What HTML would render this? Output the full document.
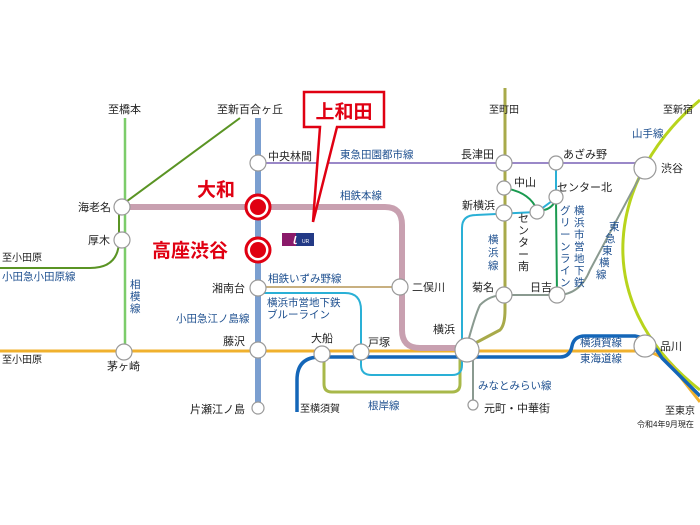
<!DOCTYPE html>
<html><head><meta charset="utf-8"><style>
html,body{margin:0;padding:0;background:#fff;}
svg{display:block;}
text{font-family:"Liberation Sans","Noto Sans CJK JP",sans-serif;}
.k{font-size:11px;fill:#222;}
.b{font-size:10.5px;fill:#1d4f8f;}
</style></head><body>
<svg width="700" height="525" viewBox="0 0 700 525" xmlns="http://www.w3.org/2000/svg">
<rect width="700" height="525" fill="#fff"/>
<path d="M700,100 C610,175 585,300 700,390" fill="none" stroke="#b8d41c" stroke-width="3"/>
<path d="M0,351 L640,351 Q660,351 675,370 L700,402" fill="none" stroke="#f0b12e" stroke-width="3"/>
<path d="M297,412 L297,380 Q297,357 320,357 L560,357 Q570,357 572,346 Q574,336 585,336 L635,336 Q650,338 662,358 L700,396" fill="none" stroke="#1466b8" stroke-width="3.5"/>
<path d="M324,352 L324,384 Q324,392 332,392 L452,392 Q460,392 460,384 L460,352" fill="none" stroke="#a8b84a" stroke-width="3"/>
<path d="M466,348 L500,330 Q505,325 505,310 L505,88" fill="none" stroke="#a8aa4a" stroke-width="3"/>
<path d="M258,293 L345,293 Q361,293 361,310 L361,365 Q361,375 372,375 L452,375 Q462,375 462,365 L462,228 Q462,215 476,215 L537,212 L556,198 L556,163" fill="none" stroke="#2ab0d6" stroke-width="2"/>
<path d="M504,188 Q530,192 537,210 Q550,212 556,200 L557,295" fill="none" stroke="#1a9a50" stroke-width="2"/>
<path d="M466,349 Q475,315 480,305 Q490,295 504,295 L557,295 Q580,295 590,270 L645,167" fill="none" stroke="#8a9a90" stroke-width="2"/>
<path d="M473,350 L473,405" fill="none" stroke="#8a9a90" stroke-width="2"/>
<path d="M258,163 L645,163" fill="none" stroke="#9a88c8" stroke-width="2"/>
<path d="M258,287 L400,287" fill="none" stroke="#c8b080" stroke-width="2"/>
<path d="M122,207 L385,207 Q402,207 402,225 L402,330 Q402,348 420,348 L466,348" fill="none" stroke="#c8a0b0" stroke-width="6"/>
<path d="M125,118 L125,352" fill="none" stroke="#7ccc6a" stroke-width="2.5"/>
<path d="M0,268 L90,268 Q119,268 119,240 L119,207 L240,118" fill="none" stroke="#5a9424" stroke-width="2"/>
<path d="M258,118 L258,408" fill="none" stroke="#7b9fd0" stroke-width="6"/>

<g fill="#fff" stroke="#999" stroke-width="1.2">
<circle cx="122" cy="207" r="8"/><circle cx="122" cy="240" r="8"/><circle cx="124" cy="352" r="8"/>
<circle cx="258" cy="163" r="8"/><circle cx="258" cy="288" r="8"/><circle cx="258" cy="350" r="8"/><circle cx="258" cy="408" r="6"/>
<circle cx="322" cy="354" r="8"/><circle cx="361" cy="352" r="8"/><circle cx="400" cy="287" r="8"/>
<circle cx="467" cy="350" r="12"/><circle cx="473" cy="405" r="5"/>
<circle cx="504" cy="163" r="8"/><circle cx="504" cy="188" r="7"/><circle cx="504" cy="213" r="8"/><circle cx="504" cy="295" r="8"/>
<circle cx="537" cy="212" r="7"/><circle cx="556" cy="197" r="7"/><circle cx="556" cy="163" r="7"/><circle cx="557" cy="295" r="8"/>
<circle cx="645" cy="168" r="11"/><circle cx="645" cy="346" r="11"/>
</g>
<g><circle cx="258" cy="207" r="12" fill="#fff" stroke="#e00012" stroke-width="3"/><circle cx="258" cy="207" r="8" fill="#e00012"/>
<circle cx="258" cy="250" r="12" fill="#fff" stroke="#e00012" stroke-width="3"/><circle cx="258" cy="250" r="8" fill="#e00012"/></g>

<path d="M304,92 L384,92 L384,127 L337,127 L313,222 L320,127 L304,127 Z" fill="#fff" stroke="#e00012" stroke-width="2.5" stroke-linejoin="miter"/>
<text x="344" y="118" text-anchor="middle" font-size="19" font-weight="bold" fill="#e00012">上和田</text>
<rect x="282" y="233" width="32" height="13" fill="#233a86"/><rect x="282" y="233" width="14" height="13" fill="#8a1a6a"/>
<text x="289" y="244" font-size="10" fill="#fff" font-style="italic" font-weight="bold">ｌ</text>
<text x="302" y="243" font-size="5" fill="#fff">UR</text>

<text x="197" y="196" font-size="19" font-weight="bold" fill="#e00012">大和</text>
<text x="152" y="257" font-size="19" font-weight="bold" fill="#e00012">高座渋谷</text>

<g class="k">
<text x="108" y="113">至橋本</text><text x="217" y="113">至新百合ヶ丘</text>
<text x="268" y="160">中央林間</text><text x="78" y="211">海老名</text><text x="88" y="244">厚木</text>
<text x="2" y="261" font-size="10">至小田原</text><text x="2" y="363" font-size="10">至小田原</text>
<text x="107" y="370">茅ヶ崎</text><text x="212" y="292">湘南台</text><text x="223" y="345">藤沢</text>
<text x="190" y="413">片瀬江ノ島</text><text x="311" y="342">大船</text><text x="368" y="346">戸塚</text>
<text x="412" y="291">二俣川</text><text x="433" y="333">横浜</text><text x="484" y="412">元町・中華街</text>
<text x="300" y="412" font-size="10">至横須賀</text>
<text x="461" y="158">長津田</text><text x="563" y="158">あざみ野</text><text x="514" y="186">中山</text>
<text x="462" y="209">新横浜</text><text x="557" y="191">センター北</text><text x="472" y="291">菊名</text>
<text x="530" y="291">日吉</text><text x="661" y="172">渋谷</text><text x="660" y="350">品川</text>
<text x="489" y="113" font-size="10">至町田</text><text x="663" y="113" font-size="10">至新宿</text>
<text x="665" y="414" font-size="10">至東京</text>
<text x="637" y="427" font-size="8">令和4年9月現在</text>
</g>
<g class="k" font-size="11"><text x="518" y="222">セ</text><text x="518" y="234">ン</text><text x="518" y="246">タ</text><text x="518" y="258">ー</text><text x="518" y="270">南</text></g>
<g class="b">
<text x="340" y="158">東急田園都市線</text><text x="340" y="199">相鉄本線</text>
<text x="268" y="282">相鉄いずみ野線</text><text x="267" y="306">横浜市営地下鉄</text><text x="267" y="318">ブルーライン</text>
<text x="176" y="322">小田急江ノ島線</text><text x="2" y="280">小田急小田原線</text>
<text x="368" y="409">根岸線</text><text x="478" y="389">みなとみらい線</text>
<text x="580" y="346">横須賀線</text><text x="580" y="362">東海道線</text><text x="632" y="137">山手線</text>
</g>
<g class="b" font-size="10.5">
<text x="130" y="288">相</text><text x="130" y="300">模</text><text x="130" y="312">線</text>
<text x="488" y="243">横</text><text x="488" y="256">浜</text><text x="488" y="269">線</text>
<text x="574" y="214">横</text><text x="574" y="226">浜</text><text x="574" y="238">市</text><text x="574" y="250">営</text><text x="574" y="262">地</text><text x="574" y="274">下</text><text x="574" y="286">鉄</text>
<text x="560" y="214">グ</text><text x="560" y="226">リ</text><text x="560" y="238">ー</text><text x="560" y="250">ン</text><text x="560" y="262">ラ</text><text x="560" y="274">イ</text><text x="560" y="286">ン</text>
<text x="609" y="230">東</text><text x="605" y="242">急</text><text x="602" y="254">東</text><text x="599" y="266">横</text><text x="596" y="278">線</text>
</g>
</svg>
</body></html>
